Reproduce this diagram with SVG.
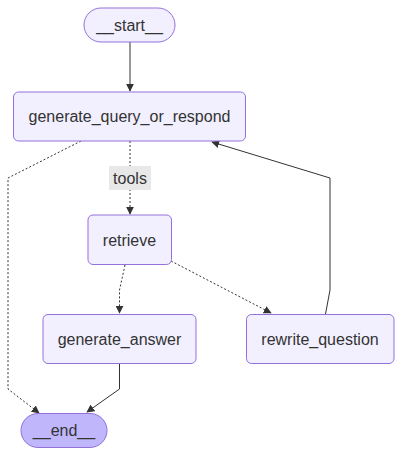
<svg xmlns="http://www.w3.org/2000/svg" width="402" height="456" viewBox="0 0 402 456">
<style>
.node rect{fill:#f2f0ff;stroke:#9370db;stroke-width:1}
#end rect{fill:#bfb6fc}
text{font-family:"Liberation Sans",Arial,sans-serif;font-size:16px;fill:#333;text-anchor:middle;dominant-baseline:central}
.edge{fill:none;stroke:#333;stroke-width:1}
.dash{stroke-dasharray:2 2}
</style>
<defs>
<marker id="arrow" viewBox="0 0 10 10" refX="9" refY="5" markerWidth="8" markerHeight="8" markerUnits="userSpaceOnUse" orient="auto">
<path d="M0,0 L10,5 L0,10 z" fill="#333"/>
</marker>
</defs>
<rect width="402" height="456" fill="#fff"/>
<g id="edges">
<path class="edge" d="M130,42 L130,91" marker-end="url(#arrow)"/>
<path class="edge dash" d="M130,141 L130,214" marker-end="url(#arrow)"/>
<path class="edge dash" d="M81,141 L8,178 L8,389 L39,413" marker-end="url(#arrow)"/>
<path class="edge dash" d="M125,265 L119.5,290 L119.5,313" marker-end="url(#arrow)"/>
<path class="edge dash" d="M171,261 L271,313" marker-end="url(#arrow)"/>
<path class="edge" d="M325.5,314 L330,290 L330,178 L212,142" marker-end="url(#arrow)"/>
<path class="edge" d="M119.5,363 L119.5,389 L87,412" marker-end="url(#arrow)"/>
<g id="label-tools">
<rect x="109" y="166" width="42" height="24" fill="#e8e8e8"/>
<text x="130" y="178">tools</text>
</g>
</g>
<g id="start" class="node">
<rect x="84" y="8" width="91" height="34" rx="17" ry="17"/>
<text x="129.5" y="25">__start__</text>
</g>
<g id="generate_query_or_respond" class="node">
<rect x="13.5" y="92" width="232" height="49" rx="5" ry="5"/>
<text x="129.5" y="116.5">generate_query_or_respond</text>
</g>
<g id="retrieve" class="node">
<rect x="88" y="215" width="83.5" height="49.5" rx="5" ry="5"/>
<text x="129.5" y="240">retrieve</text>
</g>
<g id="generate_answer" class="node">
<rect x="43" y="314.5" width="153" height="49" rx="5" ry="5"/>
<text x="119.5" y="339">generate_answer</text>
</g>
<g id="rewrite_question" class="node">
<rect x="246.5" y="314.5" width="147.5" height="49" rx="5" ry="5"/>
<text x="320" y="339">rewrite_question</text>
</g>
<g id="end" class="node">
<rect x="21" y="413.5" width="86" height="34" rx="17" ry="17"/>
<text x="64" y="430.5">__end__</text>
</g>
</svg>
